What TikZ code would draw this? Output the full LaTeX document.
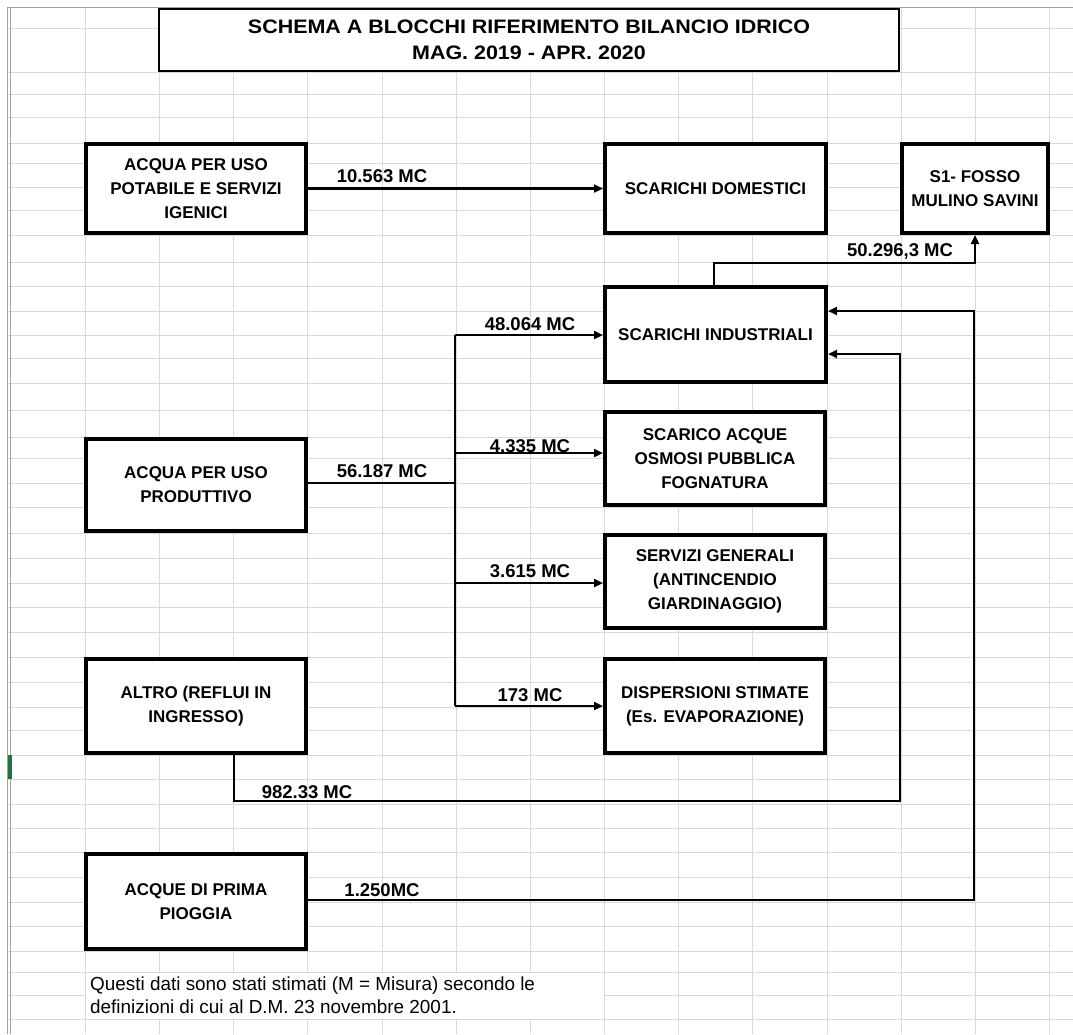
\documentclass[tikz,border=0pt]{standalone}
\usepackage{fontspec}
\setmainfont{Liberation Sans}
\newfontfamily\titlefont[FakeStretch=1.1]{Liberation Sans}
\usetikzlibrary{arrows.meta}
\definecolor{gridc}{RGB}{217,217,217}
\definecolor{edgec}{RGB}{160,160,160}
\definecolor{xlgreen}{RGB}{33,115,70}
\tikzset{
  box/.style={draw=black, line width=4pt, fill=white, inner sep=0pt, align=center,
    font=\bfseries\fontsize{17}{24}\selectfont},
  titlebox/.style={draw=black, line width=2pt, fill=white, inner sep=0pt, align=center,
    font=\titlefont\bfseries\fontsize{19.5}{26}\selectfont},
  conn/.style={draw=black, line width=2.2pt},
  arr/.style={conn, -{Triangle[length=9pt,width=8pt]}},
  lbl/.style={anchor=base, inner sep=0pt, font=\bfseries\fontsize{18.5}{22}\selectfont},
  note/.style={anchor=base west, inner sep=0pt, font=\fontsize{18.9}{23}\selectfont},
  gridline/.style={draw=gridc, line width=1pt},
}
\begin{document}
\begin{tikzpicture}[x=1pt, y=1pt]
\useasboundingbox[fill=white] (0,0) rectangle (1073,-1034);
% spreadsheet grid
\foreach \r in {28,72,94,117,143,163,187,210,235,262,286,311,335,358,383,410,437,458,483,507,533,558,583,607,632,657,682,707,730,755,779,804,828,852,877,902,926,951,972,995,1019}
  \draw[gridline] (8,-\r) -- (1073,-\r);
\foreach \c in {85,159,233,307,382,456,530,604,678,752,827,901,975,1049}
  \draw[gridline] (\c,-7) -- (\c,-1034);
% merged footnote cell hides inner grid lines
\fill[white] (85.5,-972.5) rectangle (603.5,-1018.5);
% sheet borders
\draw[edgec, line width=1pt] (7,-7) -- (1073,-7);
\draw[edgec, line width=0.8pt] (7.5,-7) -- (7.5,-1034);
\draw[edgec, line width=1.5pt] (10.5,-7) -- (10.5,-1034);
\fill[xlgreen] (8,-755) rectangle (11.5,-779);

% title
\node[titlebox, minimum width=740pt, minimum height=62pt] (T) at (529,-40)
  {SCHEMA A BLOCCHI RIFERIMENTO BILANCIO IDRICO\\MAG. 2019 - APR. 2020};

% boxes
\node[box, minimum width=220pt, minimum height=89pt] (B1) at (196,-188.5)
  {ACQUA PER USO\\POTABILE E SERVIZI\\IGENICI};
\node[box, minimum width=221pt, minimum height=89pt] (SD) at (715.5,-188.5)
  {SCARICHI DOMESTICI};
\node[box, minimum width=146pt, minimum height=89pt] (S1) at (975,-188.5)
  {S1- FOSSO\\MULINO SAVINI};
\node[box, minimum width=221pt, minimum height=95pt] (SI) at (715.5,-334.5)
  {SCARICHI INDUSTRIALI};
\node[box, minimum width=220pt, minimum height=93pt] (SA) at (715,-458.5)
  {SCARICO ACQUE\\OSMOSI PUBBLICA\\FOGNATURA};
\node[box, minimum width=220pt, minimum height=93pt] (SG) at (715,-581.5)
  {SERVIZI GENERALI\\(ANTINCENDIO\\GIARDINAGGIO)};
\node[box, minimum width=220pt, minimum height=94pt] (DS) at (715,-706)
  {DISPERSIONI STIMATE\\(Es. EVAPORAZIONE)};
\node[box, minimum width=220pt, minimum height=92pt] (PR) at (196,-485)
  {ACQUA PER USO\\PRODUTTIVO};
\node[box, minimum width=220pt, minimum height=94pt] (AL) at (196,-706)
  {ALTRO (REFLUI IN\\INGRESSO)};
\node[box, minimum width=220pt, minimum height=95pt] (PP) at (196,-901.5)
  {ACQUE DI PRIMA\\PIOGGIA};

% helper coordinates
\coordinate (bus) at (455,-483);
\coordinate (busTop) at (455,-335);
\coordinate (busBot) at (455,-706);
\coordinate (a1) at (234,-801);
\coordinate (a2) at (900,-354);
\coordinate (p2) at (974,-311);

% connectors
\draw[arr] (B1.east) -- (SD.west);
\draw[conn] (PR.east |- bus) -- (bus);
\draw[conn] (busTop) -- (busBot);
\draw[arr] (busTop) -- (SI.west |- busTop);
\draw[arr] (455,-453) -- (SA.west |- 0,-453);
\draw[arr] (455,-583) -- (SG.west |- 0,-583);
\draw[arr] (busBot) -- (DS.west |- busBot);
\draw[arr] (SI.north -| 714,0) -- (714,-263) -| (S1.south);
\draw[arr] (AL.south -| a1) -- (a1) -| (a2) -- (SI.east |- a2);
\draw[arr] (PP.east |- 0,-900) -| (p2) -- (SI.east |- p2);

% labels
\node[lbl] (l1) at (382,-182) {10.563 MC};
\node[lbl] (l2) at (530,-330) {48.064 MC};
\node[lbl] (l3) at (382,-477) {56.187 MC};
\node[lbl] (l4) at (530,-452) {4.335 MC};
\node[lbl] (l5) at (530,-577) {3.615 MC};
\node[lbl] (l6) at (530,-701) {173 MC};
\node[lbl] (l7) at (307,-798) {982.33 MC};
\node[lbl] (l8) at (382,-896) {1.250MC};
\node[lbl] (l9) at (900,-256) {50.296,3 MC};

% footnote
\node[note] (n1) at (90,-990) {Questi dati sono stati stimati (M = Misura) secondo le};
\node[note] (n2) at (90,-1013) {definizioni di cui al D.M. 23 novembre 2001.};
\end{tikzpicture}
\end{document}
